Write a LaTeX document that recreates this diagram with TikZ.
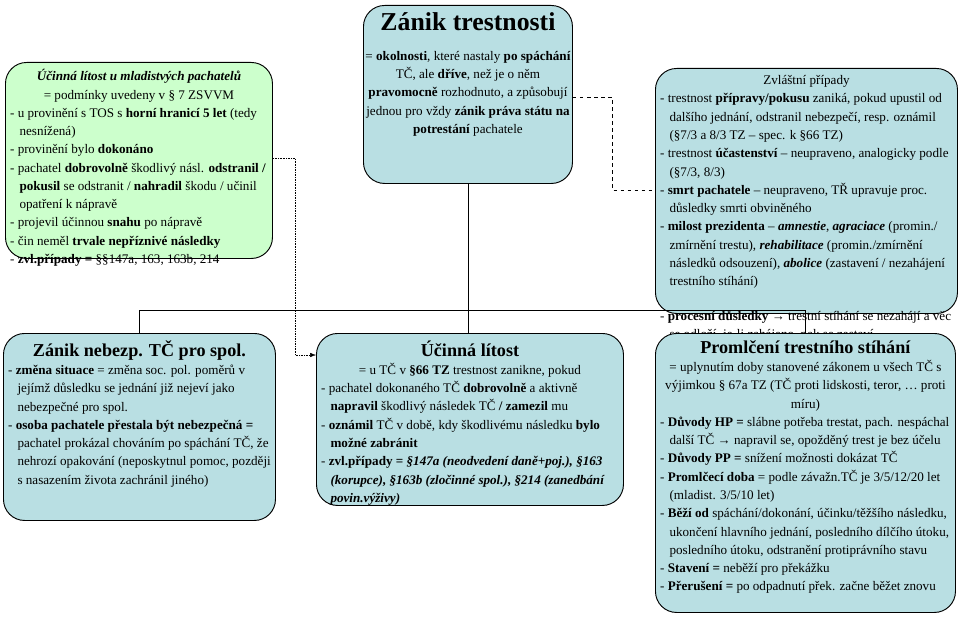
\documentclass[tikz,border=0pt]{standalone}
\usepackage{fontspec}
\setmainfont{Liberation Serif}
\usetikzlibrary{positioning,arrows.meta}
\definecolor{boxblue}{HTML}{B9DFE3}
\definecolor{boxgreen}{HTML}{CCFFCC}
\tikzset{
  card/.style={draw,thick,rounded corners=18pt,fill=boxblue,anchor=north west,inner sep=0pt},
  link/.style={thick},
}
% #1 name, #2 x, #3 y, #4 width, #5 height, #6 style, #7 text
\newcommand{\newCard}[7]{\node[card,#6](#1) at (#2,#3)
  {\parbox[c][\dimexpr 0.03cm*#5\relax][t]{\dimexpr 0.03cm*#4\relax}{\vspace{6pt}\fontsize{11.2}{15.6}\selectfont
   \leftskip=4pt\rightskip=2pt plus 1fil #7}};}
\newcommand{\itm}{\par\hangindent=8pt\hangafter=1 - }
\begin{document}
\begin{tikzpicture}[x=0.03cm,y=-0.03cm]
  \useasboundingbox (0,0) rectangle (960,619);
  \newCard{young}{5}{62}{267}{196}{fill=boxgreen}{%
    {\centering\textbf{\textit{Účinná lítost u mladistvých pachatelů}}\par
     = podmínky uvedeny v § 7 ZSVVM\par}
    \itm u provinění s TOS s \textbf{horní hranicí 5 let} (tedy nesnížená)
    \itm provinění bylo \textbf{dokonáno}
    \itm pachatel \textbf{dobrovolně} škodlivý násl. \textbf{odstranil / pokusil} se odstranit / \textbf{nahradil} škodu / učinil opatření k nápravě
    \itm projevil účinnou \textbf{snahu} po nápravě
    \itm čin neměl \textbf{trvale nepříznivé následky}
    \itm \textbf{zvl.případy =} §§147a, 163, 163b, 214}
  \newCard{main}{363}{5}{209}{178}{}{%
    \centering{\fontsize{22}{26}\selectfont\textbf{Zánik trestnosti}\par}\vspace{10pt}
    = \textbf{okolnosti}, které nastaly \textbf{po spáchání} TČ, ale \textbf{dříve}, než je o něm \textbf{pravomocně} rozhodnuto, a způsobují jednou pro vždy \textbf{zánik práva státu na potrestání} pachatele}
  \newCard{special}{655}{68}{302}{245}{}{%
    {\centering Zvláštní případy\par}
    \itm trestnost \textbf{přípravy/pokusu} zaniká, pokud upustil od dalšího jednání, odstranil nebezpečí, resp. oznámil (§7/3 a 8/3 TZ – spec. k §66 TZ)
    \itm trestnost \textbf{účastenství} – neupraveno, analogicky podle (§7/3, 8/3)
    \itm \textbf{smrt pachatele} – neupraveno, TŘ upravuje proc. důsledky smrti obviněného
    \itm \textbf{milost prezidenta} – \textbf{\textit{amnestie}}, \textbf{\textit{agraciace}} (promin./ zmírnění trestu), \textbf{\textit{rehabilitace}} (promin./zmírnění následků odsouzení), \textbf{\textit{abolice}} (zastavení / nezahájení trestního stíhání)\par\vspace{14pt}
    \itm \textbf{procesní důsledky} → trestní stíhání se nezahájí a věc se odloží, je-li zahájeno, pak se zastaví}
  \newCard{danger}{3}{333}{272}{187}{}{%
    {\centering{\fontsize{15.5}{19}\selectfont\textbf{Zánik nebezp. TČ pro spol.}}\par}
    \itm \textbf{změna situace} = změna soc. pol. poměrů v jejímž důsledku se jednání již nejeví jako nebezpečné pro spol.
    \itm \textbf{osoba pachatele přestala být nebezpečná =} pachatel prokázal chováním po spáchání TČ, že nehrozí opakování (neposkytnul pomoc, později s nasazením života zachránil jiného)}
  \newCard{regret}{316}{333}{307}{172}{}{%
    {\centering{\fontsize{15.5}{19}\selectfont\textbf{Účinná lítost}}\par
     = u TČ v \textbf{§66 TZ} trestnost zanikne, pokud\par}
    \itm pachatel dokonaného TČ \textbf{dobrovolně} a aktivně \textbf{napravil} škodlivý následek TČ \textbf{/ zamezil} mu
    \itm \textbf{oznámil} TČ v době, kdy škodlivému následku \textbf{bylo možné zabránit}
    \itm \textbf{zvl.případy = \textit{§147a (neodvedení daně+poj.), §163 (korupce), §163b (zločinné spol.), §214 (zanedbání povin.výživy)}}}
  \newCard{lapse}{655}{333}{300}{279}{}{%
    {\centering{\fontsize{15.5}{19}\selectfont\textbf{Promlčení trestního stíhání}}\par
     = uplynutím doby stanovené zákonem u všech TČ s výjimkou § 67a TZ (TČ proti lidskosti, teror, … proti míru)\par}
    \itm \textbf{Důvody HP =} slábne potřeba trestat, pach. nespáchal další TČ → napravil se, opožděný trest je bez účelu
    \itm \textbf{Důvody PP =} snížení možnosti dokázat TČ
    \itm \textbf{Promlčecí doba} = podle závažn.TČ je 3/5/12/20 let (mladist. 3/5/10 let)
    \itm \textbf{Běží od} spáchání/dokonání, účinku/těžšího následku, ukončení hlavního jednání, posledního dílčího útoku, posledního útoku, odstranění protiprávního stavu
    \itm \textbf{Stavení =} neběží pro překážku
    \itm \textbf{Přerušení =} po odpadnutí přek. začne běžet znovu}
  % tree
  \coordinate (hub) at (main.south |- 0,310);
  \draw[link] (main.south) -- (hub);
  \draw[link] (danger.north |- hub) -- (lapse.north |- hub);
  \draw[link] (danger.north |- hub) -- (danger.north);
  \draw[link] (hub) -- (regret.north -| hub);
  \draw[link] (lapse.north |- hub) -- (lapse.north);
  % side links
  \draw[thick,dashed] (main.east |- 0,97) -| (612,190) -- (special.west |- 0,190);
  \draw[densely dotted,-{Latex[length=5pt]}] (young.east |- 0,158) -| (295,355) -- (regret.west |- 0,355);
\end{tikzpicture}
\end{document}
